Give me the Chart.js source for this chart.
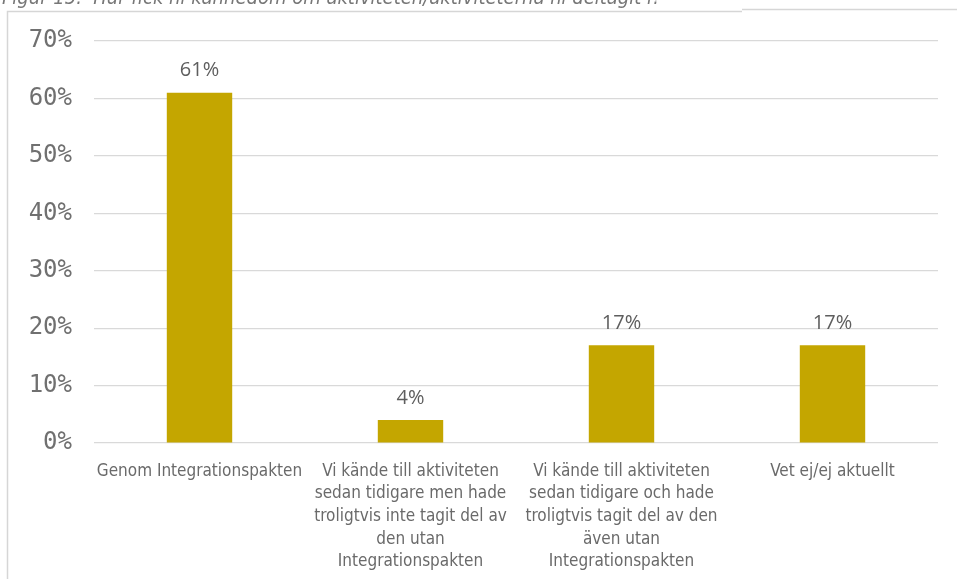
<!DOCTYPE html>
<html>
<head>
<meta charset="utf-8">
<script src="https://cdn.jsdelivr.net/npm/chart.js@4.4.1/dist/chart.umd.min.js"></script>
<style>
  html, body { margin: 0; padding: 0; background: #fff; }
  #wrap { width: 957px; height: 579px; position: relative; }
</style>
</head>
<body>
<div id="wrap"><canvas id="chart"></canvas></div>
<script>
// data
const categories = [
    'Genom Integrationspakten',
    ['Vi kände till aktiviteten', 'sedan tidigare men hade', 'troligtvis inte tagit del av', 'den utan', 'Integrationspakten'],
    ['Vi kände till aktiviteten', 'sedan tidigare och hade', 'troligtvis tagit del av den', 'även utan', 'Integrationspakten'],
    'Vet ej/ej aktuellt'
];
const shares = [61, 4, 17, 17];
const yTicks = [0, 10, 20, 30, 40, 50, 60, 70];
const figTitle = 'Figur 15.  Hur fick ni kännedom om aktiviteten/aktiviteterna ni deltagit i?';

/**
* frame + cut off title at the top
*/
const frameAndTitle = {
    id: 'frameAndTitle',
    beforeDraw(chart) {
        const ctx = chart.ctx;
        ctx.save();
        ctx.strokeStyle = '#d6d6d6';
        ctx.lineWidth = 1.5;
        ctx.beginPath();
        ctx.moveTo(7.5, 579);
        ctx.lineTo(7.5, 11.5);
        ctx.lineTo(742, 11.5);
        ctx.moveTo(742, 9.5);
        ctx.lineTo(957, 9.5);
        ctx.stroke();

        ctx.font = 'italic 20px "Liberation Sans Narrow", "DejaVu Sans Condensed", sans-serif';
        ctx.fillStyle = '#777';
        ctx.textAlign = 'left';
        ctx.textBaseline = 'alphabetic';
        ctx.fillText(figTitle, 2, 4);
        ctx.restore();
    }
};

/**
* value labels above the bars
*/
const valueLabels = {
    id: 'valueLabels',
    afterDatasetsDraw(chart) {
        const ctx = chart.ctx;
        ctx.save();
        ctx.font = '20px "Open Sans", sans-serif';
        ctx.fillStyle = '#5e5e5e';
        ctx.textAlign = 'center';
        ctx.textBaseline = 'bottom';
        chart.getDatasetMeta(0).data.forEach((bar, i) => {
            ctx.fillText(shares[i] + '%', bar.x, bar.y - 12);
        });
        ctx.restore();
    }
};

const ctx = document.getElementById('chart').getContext('2d');
let mychart = new Chart(ctx, {
    type: 'bar',
    data: {
        labels: categories,
        datasets: [{
            data: shares,
            backgroundColor: '#c4a600',
            barPercentage: 0.62,
            categoryPercentage: 0.5
        }]
    },
    options: {
        responsive: true,
        maintainAspectRatio: false,
        animation: false,
        layout: { padding: { top: 41, right: 19, bottom: 0, left: 0 } },
        plugins: {
            legend: { display: false },
            tooltip: { enabled: false }
        },
        scales: {
            x: {
                grid: { display: false },
                border: { display: false },
                ticks: {
                    color: '#6a6a6a',
                    font: { family: '"Liberation Sans Narrow", "DejaVu Sans Condensed", sans-serif', size: 17, lineHeight: 1.33 },
                    padding: 9,
                    maxRotation: 0,
                    autoSkip: false
                },
                afterFit(scale) { scale.height = 136; }
            },
            y: {
                min: 0,
                max: 70,
                afterBuildTicks(scale) { scale.ticks = yTicks.map(v => ({ value: v })); },
                grid: { color: '#d9d9d9', lineWidth: 1.2, drawTicks: false },
                border: { display: false },
                ticks: {
                    color: '#707070',
                    font: { family: '"DejaVu Sans Mono", monospace', size: 24 },
                    padding: 22,
                    callback: v => v + '%'
                },
                afterFit(scale) { scale.width = 94; }
            }
        }
    },
    plugins: [frameAndTitle, valueLabels]
});
</script>
</body>
</html>
